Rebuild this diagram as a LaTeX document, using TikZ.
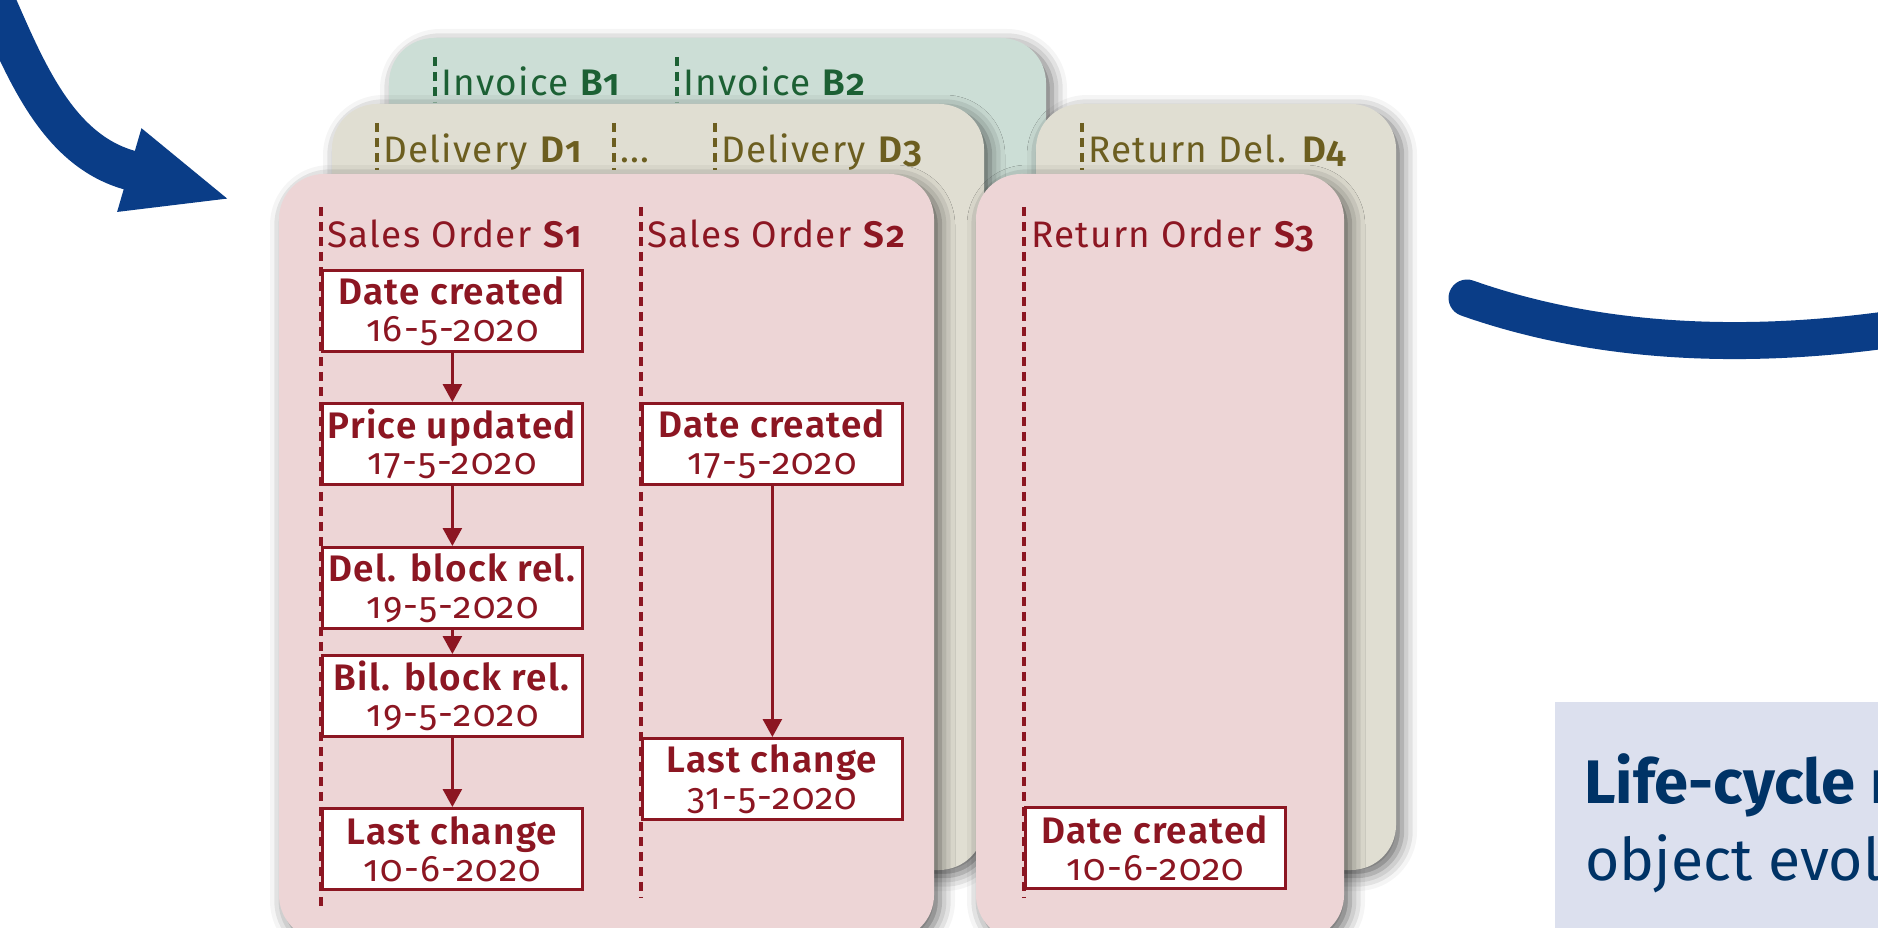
\documentclass[tikz,border=0pt]{standalone}
\usepackage{fontspec}
\setmainfont{Fira Sans}[Numbers=OldStyle, LetterSpace=3.5, BoldFont={Fira Sans SemiBold}]
\newfontfamily\lcfont{Fira Sans}[Numbers=OldStyle]
\usetikzlibrary{arrows.meta,shadows.blur}

\definecolor{ordred}{RGB}{140,22,34}
\definecolor{delolive}{RGB}{108,94,32}
\definecolor{invgreen}{RGB}{28,96,52}
\definecolor{panelgreen}{RGB}{204,222,214}
\definecolor{panelbeige}{RGB}{224,222,210}
\definecolor{panelpink}{RGB}{237,213,214}
\definecolor{arrowblue}{RGB}{10,61,135}
\definecolor{lcbox}{RGB}{220,224,238}
\definecolor{lctext}{RGB}{0,51,102}

\tikzset{
	panel/.style={rounded corners=0.9cm, blur shadow={shadow xshift=0.12cm, shadow yshift=-0.12cm, shadow blur radius=0.3cm, shadow opacity=60}},
	lane/.style={line width=1.8pt, dash pattern=on 0.18cm off 0.12cm},
	head/.style={anchor=base west, inner sep=0pt, font=\fontsize{21}{21}\selectfont},
	event/.style={draw=ordred, fill=white, text=ordred, line width=1.6pt, align=center, inner sep=0pt,
		minimum width=5.2cm, minimum height=1.62cm, anchor=north west, font=\fontsize{21}{21}\selectfont},
	flow/.style={draw=ordred, line width=1.6pt, -{Triangle[length=0.36cm,width=0.38cm]}}
}

\begin{document}
\begin{tikzpicture}[x=0.02cm, y=-0.02cm]
	\useasboundingbox (0,0) rectangle (1878,928);
	\clip (0,0) rectangle (1878,928);

	% big blue strokes
	\draw[arrowblue, line width=0.8cm, -{Triangle[length=2.14cm,width=1.56cm]}] (-12,-15) .. controls (21,58) and (52,148) .. (129,170) -- (232,200);
	\draw[arrowblue, line width=0.74cm, line cap=round] (1467,298) .. controls (1600,345) and (1750,350) .. (1900,328);

	% stacked object panels
	\fill[panel, panelgreen] (389,38) rectangle (1046,520);
	\fill[panel, panelbeige] (332,104) rectangle (984,870);
	\fill[panel, panelbeige] (1036,104) rectangle (1396,870);
	\fill[panel, panelpink] (279,174) rectangle (934,940);
	\fill[panel, panelpink] (976,174) rectangle (1344,940);

	% invoices
	\draw[lane, invgreen] (435,57) -- (435,102);
	\node[head, text=invgreen] (b1) at (441,96) {Invoice \textbf{B1}};
	\draw[lane, invgreen] (677,57) -- (677,102);
	\node[head, text=invgreen] (b2) at (683,96) {Invoice \textbf{B2}};

	% deliveries
	\draw[lane, delolive] (377,123) -- (377,170);
	\node[head, text=delolive] (d1) at (383,163) {Delivery \textbf{D1}};
	\draw[lane, delolive] (614,123) -- (614,170);
	\node[head, text=delolive] (dd) at (620,163) {...};
	\draw[lane, delolive] (715,123) -- (715,170);
	\node[head, text=delolive] (d3) at (721,163) {Delivery \textbf{D3}};
	\draw[lane, delolive] (1082,123) -- (1082,170);
	\node[head, text=delolive] (d4) at (1088,163) {Return Del. \textbf{D4}};

	% orders
	\draw[lane, ordred] (321,207) -- (321,908);
	\node[head, text=ordred] (s1) at (327,248) {Sales Order \textbf{S1}};
	\draw[lane, ordred] (641,207) -- (641,897);
	\node[head, text=ordred] (s2) at (647,248) {Sales Order \textbf{S2}};
	\draw[lane, ordred] (1024,207) -- (1024,897);
	\node[head, text=ordred] (s3) at (1031,248) {Return Order \textbf{S3}};

	\node[event] (s1a) at (321,269) {\textbf{Date created}\\16-5-2020};
	\node[event] (s1b) at (321,402) {\textbf{Price updated}\\17-5-2020};
	\node[event] (s1c) at (321,546) {\textbf{Del. block rel.}\\19-5-2020};
	\node[event] (s1d) at (321,654) {\textbf{Bil. block rel.}\\19-5-2020};
	\node[event] (s1e) at (321,807) {\textbf{Last change}\\10-6-2020};
	\node[event] (s2a) at (641,402) {\textbf{Date created}\\17-5-2020};
	\node[event] (s2b) at (641,737) {\textbf{Last change}\\31-5-2020};
	\node[event] (s3a) at (1024,806) {\textbf{Date created}\\10-6-2020};

	\draw[flow] (s1a) -- (s1b);
	\draw[flow] (s1b) -- (s1c);
	\draw[flow] (s1c) -- (s1d);
	\draw[flow] (s1d) -- (s1e);
	\draw[flow] (s2a) -- (s2b);

	% caption box
	\fill[lcbox] (1555,702) rectangle (1900,950);
	\node[anchor=base west, inner sep=0pt, text=lctext, font=\lcfont\fontsize{35}{42}\selectfont] (lc1) at (1584,803) {\bfseries Life-cycle m};
	\node[anchor=base west, inner sep=0pt, text=lctext, font=\lcfont\fontsize{33.5}{42}\selectfont] (lc2) at (1585,880) {object evol};
\end{tikzpicture}
\end{document}
